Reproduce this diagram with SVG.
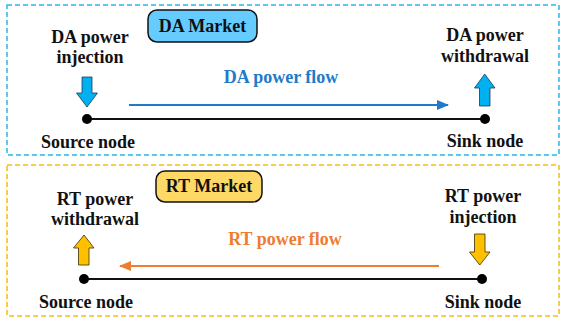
<svg xmlns="http://www.w3.org/2000/svg" width="561" height="321" viewBox="0 0 561 321" font-family="'Liberation Serif', 'Times New Roman', serif">
<style>
text{font-family:'Liberation Serif','Times New Roman',serif;font-weight:bold;font-size:18px;text-anchor:middle;fill:#111}
.blk{stroke:#111;stroke-width:2;fill:none}
.dot{fill:#000}
</style>
<defs>
<marker id="ab" markerWidth="12" markerHeight="10" refX="11" refY="5" orient="auto" markerUnits="userSpaceOnUse"><path d="M0,0 L12,5 L0,10 z" fill="#1F7BC8"/></marker>
<marker id="ao" markerWidth="12" markerHeight="10" refX="11" refY="5" orient="auto" markerUnits="userSpaceOnUse"><path d="M0,0 L12,5 L0,10 z" fill="#ED7D31"/></marker>
</defs>
<rect width="561" height="321" fill="#fff"/>
<g id="da-frame">
<rect x="7" y="5" width="552" height="150" fill="none" stroke="#2DB7EA" stroke-width="1.5" stroke-dasharray="5 3"/>
</g>
<g id="rt-frame">
<rect x="7" y="165" width="552" height="151" fill="none" stroke="#F7BD12" stroke-width="1.5" stroke-dasharray="5 3"/>
</g>
<g id="da-market">
<rect x="148" y="10" width="109" height="32" rx="9" fill="#66CCFF" stroke="#111" stroke-width="1.5"/>
<text x="202.5" y="32">DA Market</text>
</g>
<g id="rt-market">
<rect x="156" y="171" width="106" height="31" rx="9" fill="#FFD966" stroke="#111" stroke-width="1.5"/>
<text x="209" y="192">RT Market</text>
</g>
<g id="connectors">
<line class="blk" x1="87" y1="119" x2="485" y2="119"/>
<line x1="129" y1="105" x2="448" y2="105" stroke="#1F7BC8" stroke-width="2" marker-end="url(#ab)"/>
<line class="blk" x1="84" y1="279" x2="482" y2="279"/>
<line x1="439" y1="266" x2="120" y2="266" stroke="#ED7D31" stroke-width="2" marker-end="url(#ao)"/>
</g>
<g id="da-source">
<text x="90" y="43">DA power</text>
<text x="90" y="63">injection</text>
<path d="M82,77 H92 V93 H97.5 L87,107 L76.5,93 H82 Z" fill="#00B0F0" stroke="#1a3a5a" stroke-width="0.8"/>
<circle class="dot" cx="87" cy="119" r="5"/>
<text x="88" y="148">Source node</text>
</g>
<g id="da-sink">
<text x="485" y="41">DA power</text>
<text x="485" y="62">withdrawal</text>
<path d="M479.5,106 H490 V88 H495 L484.7,74 L474.5,88 H479.5 Z" fill="#00B0F0" stroke="#1a3a5a" stroke-width="0.8"/>
<circle class="dot" cx="485" cy="119" r="5"/>
<text x="485" y="147">Sink node</text>
</g>
<g id="da-flow-label">
<text x="281" y="83" style="fill:#1F7BC8">DA power flow</text>
</g>
<g id="rt-source">
<text x="95" y="205">RT power</text>
<text x="95" y="225">withdrawal</text>
<path d="M78.5,265 H89 V248 H94 L84,235 L73.5,248 H78.5 Z" fill="#FFC000" stroke="#3a3000" stroke-width="0.8"/>
<circle class="dot" cx="84" cy="279" r="5"/>
<text x="86" y="308">Source node</text>
</g>
<g id="rt-sink">
<text x="483" y="202">RT power</text>
<text x="483" y="223">injection</text>
<path d="M474.5,234 H485 V252 H490 L479.8,265 L469.5,252 H474.5 Z" fill="#FFC000" stroke="#3a3000" stroke-width="0.8"/>
<circle class="dot" cx="482" cy="279" r="5"/>
<text x="483" y="308">Sink node</text>
</g>
<g id="rt-flow-label">
<text x="285" y="245" style="fill:#ED7D31">RT power flow</text>
</g>
</svg>
